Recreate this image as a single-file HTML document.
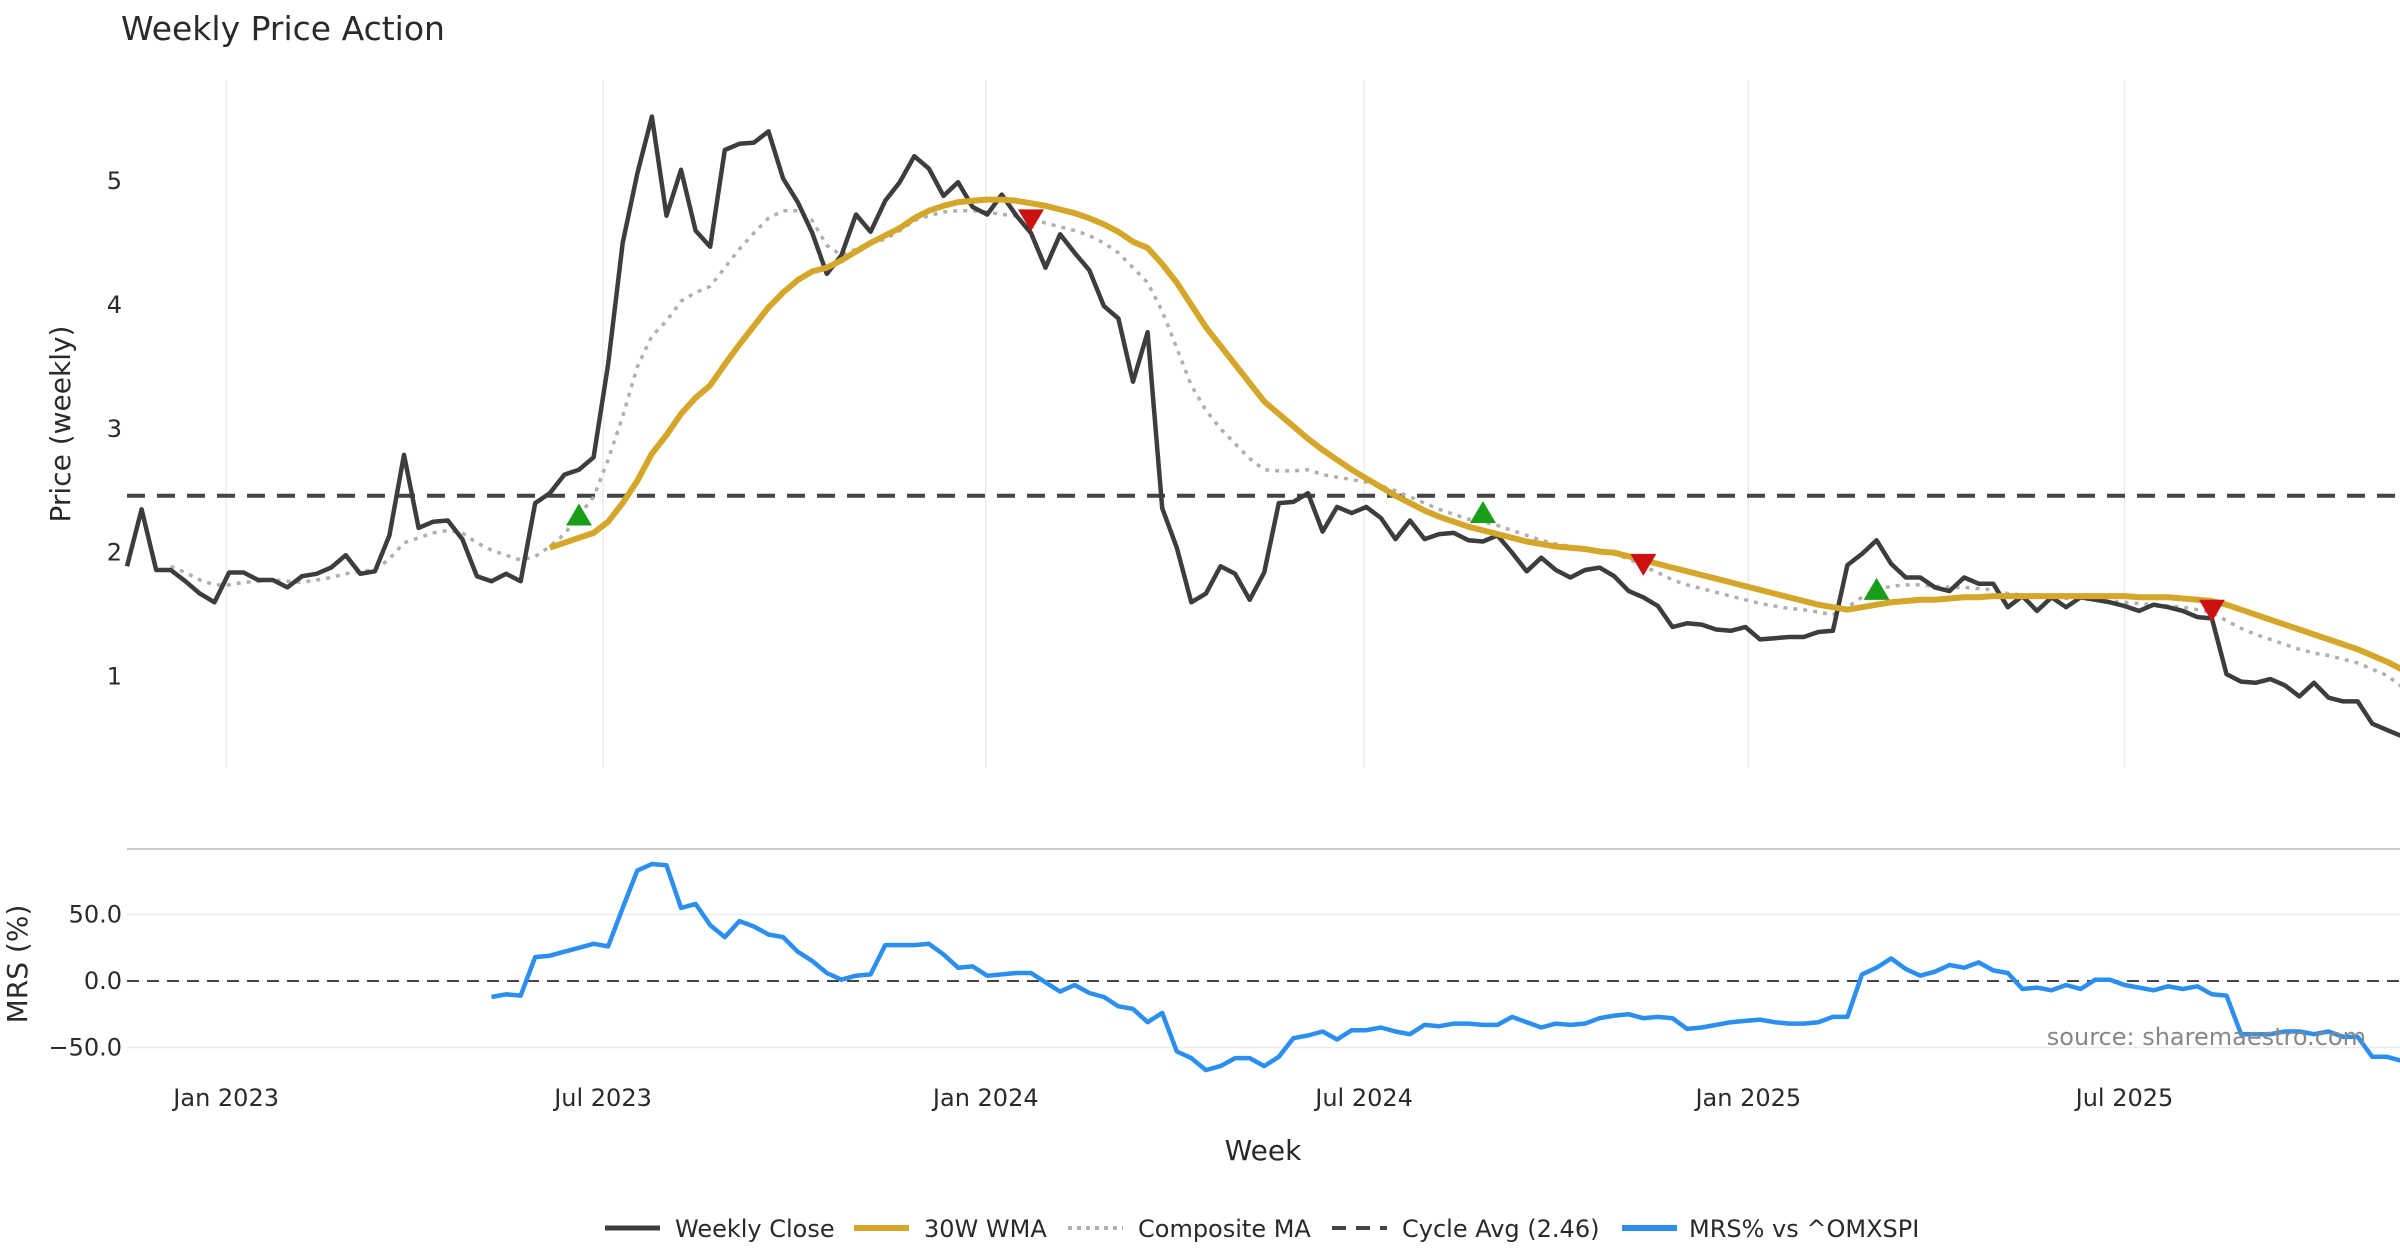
<!DOCTYPE html>
<html><head><meta charset="utf-8"><style>
html,body{margin:0;padding:0;background:#fff;}
svg{display:block;font-family:"DejaVu Sans","Liberation Sans",sans-serif;}
</style></head><body>
<svg id="chart" width="2400" height="1260" viewBox="0 0 2400 1260" xmlns="http://www.w3.org/2000/svg">
<text x="121" y="40" font-size="33" fill="#2a2a2a">Weekly Price Action</text>
<g id="grid"></g>
<g id="series"></g>
<g id="axes"></g>
<text x="0" y="0" transform="translate(70,424) rotate(-90)" text-anchor="middle" font-size="28" fill="#2a2a2a">Price (weekly)</text>
<text x="0" y="0" transform="translate(27,964) rotate(-90)" text-anchor="middle" font-size="28" fill="#2a2a2a">MRS (%)</text>
<text x="1263" y="1160" text-anchor="middle" font-size="28" fill="#2a2a2a">Week</text>
<text x="2366" y="1045" text-anchor="end" font-size="24" fill="#888">source: sharemaestro.com</text>
<g id="legend"></g>
</svg>
<script>
const closeVals=[1.89,2.35,1.86,1.86,1.77,1.67,1.6,1.84,1.84,1.78,1.78,1.72,1.81,1.83,1.88,1.98,1.83,1.85,2.14,2.79,2.2,2.25,2.26,2.11,1.81,1.77,1.83,1.77,2.4,2.48,2.63,2.67,2.77,3.52,4.5,5.06,5.52,4.72,5.09,4.6,4.47,5.25,5.3,5.31,5.4,5.02,4.83,4.58,4.25,4.4,4.73,4.59,4.84,4.99,5.2,5.1,4.88,4.99,4.79,4.73,4.89,4.72,4.58,4.3,4.57,4.42,4.28,3.99,3.89,3.38,3.78,2.36,2.04,1.6,1.67,1.89,1.83,1.62,1.84,2.4,2.41,2.48,2.17,2.37,2.32,2.37,2.28,2.11,2.26,2.11,2.15,2.16,2.1,2.09,2.14,2.0,1.85,1.96,1.86,1.8,1.86,1.88,1.81,1.69,1.64,1.57,1.4,1.43,1.42,1.38,1.37,1.4,1.3,1.31,1.32,1.32,1.36,1.37,1.9,1.99,2.1,1.91,1.8,1.8,1.72,1.69,1.8,1.75,1.75,1.56,1.65,1.53,1.64,1.56,1.64,1.62,1.6,1.57,1.53,1.58,1.56,1.53,1.48,1.47,1.02,0.96,0.95,0.98,0.93,0.84,0.95,0.83,0.8,0.8,0.62,0.57,0.52];
const wmaStart=29;
const wmaVals=[2.04,2.08,2.12,2.16,2.25,2.4,2.58,2.8,2.95,3.12,3.25,3.35,3.52,3.68,3.83,3.98,4.1,4.2,4.27,4.3,4.36,4.43,4.5,4.56,4.62,4.7,4.76,4.8,4.83,4.84,4.85,4.85,4.84,4.82,4.8,4.77,4.74,4.7,4.65,4.59,4.51,4.46,4.33,4.18,4.0,3.82,3.67,3.52,3.37,3.22,3.12,3.02,2.92,2.83,2.75,2.67,2.6,2.53,2.46,2.4,2.34,2.29,2.25,2.21,2.18,2.15,2.12,2.09,2.07,2.05,2.04,2.03,2.01,2.0,1.97,1.94,1.91,1.88,1.85,1.82,1.79,1.76,1.73,1.7,1.67,1.64,1.61,1.58,1.56,1.54,1.56,1.58,1.6,1.61,1.62,1.62,1.63,1.64,1.64,1.65,1.65,1.65,1.65,1.65,1.65,1.65,1.65,1.65,1.65,1.64,1.64,1.64,1.63,1.62,1.61,1.58,1.54,1.5,1.46,1.42,1.38,1.34,1.3,1.26,1.22,1.17,1.12,1.06];
const compStart=3;
const compVals=[1.89,1.84,1.78,1.74,1.74,1.76,1.77,1.78,1.77,1.76,1.78,1.8,1.83,1.85,1.86,1.95,2.08,2.12,2.16,2.18,2.16,2.08,2.02,1.98,1.94,1.97,2.05,2.15,2.3,2.45,2.75,3.1,3.5,3.75,3.87,4.03,4.1,4.15,4.3,4.45,4.58,4.7,4.76,4.76,4.68,4.48,4.4,4.45,4.5,4.53,4.6,4.68,4.72,4.75,4.76,4.76,4.75,4.73,4.72,4.7,4.66,4.63,4.6,4.56,4.5,4.42,4.3,4.18,3.95,3.65,3.35,3.15,3.0,2.88,2.76,2.67,2.66,2.66,2.67,2.63,2.61,2.59,2.57,2.54,2.5,2.45,2.4,2.35,2.31,2.27,2.25,2.22,2.18,2.14,2.1,2.07,2.05,2.03,2.01,1.99,1.95,1.89,1.84,1.78,1.74,1.71,1.68,1.65,1.62,1.59,1.57,1.55,1.54,1.52,1.5,1.56,1.64,1.7,1.73,1.74,1.74,1.73,1.72,1.72,1.71,1.7,1.67,1.66,1.64,1.64,1.63,1.63,1.62,1.61,1.6,1.59,1.58,1.57,1.56,1.54,1.52,1.45,1.39,1.34,1.3,1.26,1.22,1.19,1.17,1.14,1.11,1.06,1.01,0.92];
const cycleAvg=2.46;
const buyIdx=[31,93,120];
const buyVals=[2.3,2.32,1.7];
const sellIdx=[62,104,143];
const sellVals=[4.69,1.91,1.54];
const mrsStart=25;
const mrsVals=[-12,-10,-11,18,19,22,25,28,26,55,83,88,87,55,58,42,33,45,41,35,33,22,15,6,1,4,5,27,27,27,28,20,10,11,4,5,6,6,-1,-8,-3,-9,-12,-19,-21,-31,-24,-53,-58,-67,-64,-58,-58,-64,-57,-43,-41,-38,-44,-37,-37,-35,-38,-40,-33,-34,-32,-32,-33,-33,-27,-31,-35,-32,-33,-32,-28,-26,-25,-28,-27,-28,-36,-35,-33,-31,-30,-29,-31,-32,-32,-31,-27,-27,5,10,17,9,4,7,12,10,14,8,6,-6,-5,-7,-3,-6,1,1,-3,-5,-7,-4,-6,-4,-10,-11,-40,-40,-40,-38,-38,-40,-38,-42,-42,-57,-57,-60];
const xTickLabels=["Jan 2023","Jul 2023","Jan 2024","Jul 2024","Jan 2025","Jul 2025"];
const xTickWeeks=[6.8,32.65,58.9,84.85,111.2,137.0];
const priceTicks=[1,2,3,4,5];
const mrsTicks=[50,0,-50];

const NS="http://www.w3.org/2000/svg";
const X=i=>127+i*14.58;
const PY=v=>181+(5-v)*123.9;
const MY=v=>981-v*1.33;
function mk(tag,attrs,parent){const e=document.createElementNS(NS,tag);for(const k in attrs)e.setAttribute(k,attrs[k]);parent.appendChild(e);return e;}
const grid=document.getElementById('grid'),ser=document.getElementById('series'),axes=document.getElementById('axes'),leg=document.getElementById('legend');

xTickWeeks.forEach((w,k)=>{
  const gl=mk('line',{x1:X(w),x2:X(w),y1:80,y2:768,stroke:'#ececec','stroke-width':1.5},grid);
  
  
  const t=mk('text',{x:X(w),y:1106,'text-anchor':'middle','font-size':24,fill:'#2a2a2a'},axes);
  t.textContent=xTickLabels[k];
  
  
});
priceTicks.forEach(v=>{
  const t=mk('text',{x:122,y:PY(v)+8,'text-anchor':'end','font-size':24,fill:'#2a2a2a'},axes);
  t.textContent=v;
  
  
});
mrsTicks.forEach(v=>{
  if(v!==0){const gl=mk('line',{x1:127,x2:2400,y1:MY(v),y2:MY(v),stroke:'#ececec','stroke-width':1.5},grid);
  
  }
  const t=mk('text',{x:122,y:MY(v)+8,'text-anchor':'end','font-size':24,fill:'#2a2a2a'},axes);
  t.textContent=(v<0?'\u2212':'')+Math.abs(v).toFixed(1);
  
  
});
const sep=mk('line',{x1:127,x2:2400,y1:849,y2:849,stroke:'#cccccc','stroke-width':2},grid);


const zl=mk('line',{x1:127,x2:2400,y1:MY(0),y2:MY(0),stroke:'#444','stroke-width':2,'stroke-dasharray':'12,8'},grid);



function poly(vals,start,yf,attrs,name){
  const pts=vals.map((v,k)=>X(start+k).toFixed(1)+','+yf(v).toFixed(1)).join(' ');
  const p=mk('polyline',Object.assign({points:pts,fill:'none','stroke-linejoin':'round'},attrs),ser);
  
  
}
const cy=mk('line',{x1:127,x2:2400,y1:PY(cycleAvg),y2:PY(cycleAvg),stroke:'#444','stroke-width':4,'stroke-dasharray':'18,12'},ser);


poly(compVals,compStart,PY,{stroke:'#b0b0b0','stroke-width':3.5,'stroke-dasharray':'4,6'},'composite-ma-line');
poly(closeVals,0,PY,{stroke:'#3d3d3d','stroke-width':4.5},'weekly-close-line');
poly(wmaVals,wmaStart,PY,{stroke:'#d4a62a','stroke-width':6},'wma-30w-line');
poly(mrsVals,mrsStart,MY,{stroke:'#2b8ff0','stroke-width':4.5},'mrs-line');

buyIdx.forEach((i,k)=>{const x=X(i),y=PY(buyVals[k]);
  const m=mk('polygon',{points:`${x-13},${y+10} ${x+13},${y+10} ${x},${y-12}`,fill:'#1a9e1a'},ser);
  
  });
sellIdx.forEach((i,k)=>{const x=X(i),y=PY(sellVals[k]);
  const m=mk('polygon',{points:`${x-13},${y-10} ${x+13},${y-10} ${x},${y+12}`,fill:'#cc1111'},ser);
  
  });

const legItems=[["Weekly Close",605,675,{stroke:'#3d3d3d','stroke-width':5}],["30W WMA",854,924,{stroke:'#d4a62a','stroke-width':6}],["Composite MA",1068,1138,{stroke:'#b0b0b0','stroke-width':4,'stroke-dasharray':'4,5'}],["Cycle Avg (2.46)",1332,1402,{stroke:'#444','stroke-width':4,'stroke-dasharray':'14,10'}],["MRS% vs ^OMXSPI",1622,1689,{stroke:'#2b8ff0','stroke-width':6}]];
legItems.forEach(it=>{
  const l=mk('line',Object.assign({x1:it[1],x2:it[1]+55,y1:1228,y2:1228},it[3]),leg);
  
  
  const t=mk('text',{x:it[2],y:1237,'font-size':24,fill:'#2a2a2a'},leg);
  t.textContent=it[0];
  
  
});
</script>
</body></html>
